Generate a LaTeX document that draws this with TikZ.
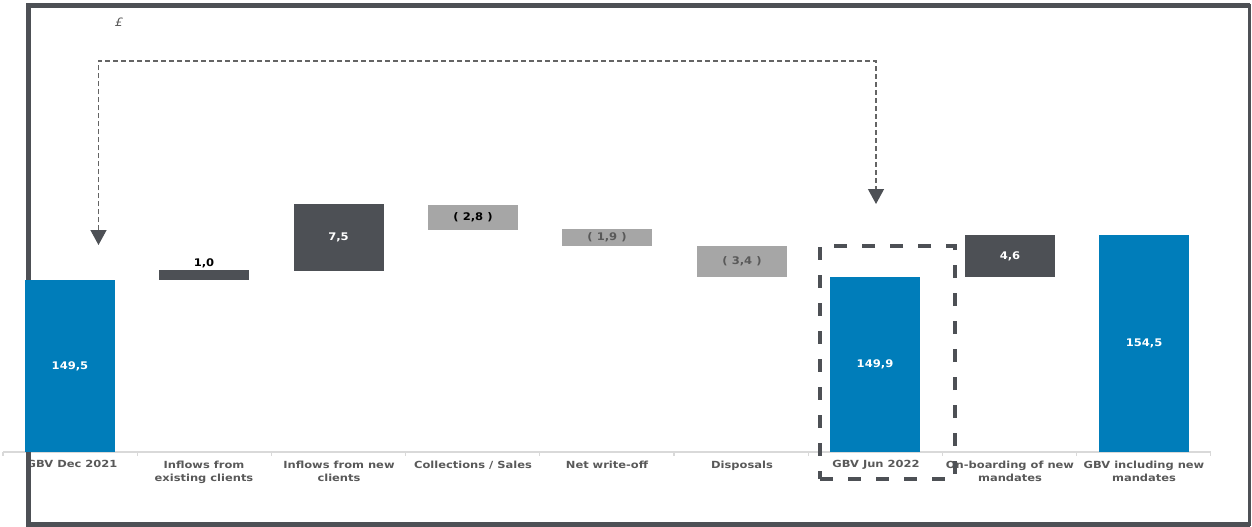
\documentclass[tikz,border=0pt]{standalone}
\usepackage{fontspec}
\setmainfont{DejaVu Sans}
\newfontfamily\catfont{DejaVu Sans}[FakeStretch=1.17]
\newfontfamily\valfont{DejaVu Sans}[FakeStretch=1.1]
\usepackage{tikz}
\usetikzlibrary{positioning, arrows.meta}
\definecolor{gbvblue}{RGB}{0,125,186}
\definecolor{bardark}{RGB}{77,80,85}
\definecolor{barlight}{RGB}{166,166,166}
\definecolor{labgray}{RGB}{89,89,89}
\definecolor{axisgray}{RGB}{217,217,217}
\definecolor{linkgray}{RGB}{100,100,100}

\begin{document}
\begin{tikzpicture}[x=1pt, y=-1pt,
    bar/.style={minimum width=90pt, inner sep=0pt, text=white, font=\valfont\bfseries\fontsize{10.5}{12}\selectfont},
    cat/.style={anchor=north, inner sep=0pt, align=center, text=labgray, font=\catfont\bfseries\fontsize{9.8}{13}\selectfont},
    link/.style={draw=linkgray, line width=1.3pt, dash pattern=on 5pt off 3pt, {Triangle[width=16pt, length=15pt, color=bardark]}-{Triangle[width=16pt, length=15pt, color=bardark]}},
    frame/.style={draw=bardark, line width=4.5pt}]
    \useasboundingbox (0,0) rectangle (1252,527);

    \draw[axisgray, line width=1.2pt] (3,452) -- (1211,452);
    \foreach \i in {0,...,9}
        \draw[axisgray, line width=1.2pt] ({3+134.2*\i},452) -- ++(0,4);

    \node[cat] (ldec) at (72,460.5) {GBV Dec 2021};
    \node[cat] (lexist) at (204,460.5) {Inflows from\\existing clients};
    \node[cat] (lnew) at (339,460.5) {Inflows from new\\clients};
    \node[cat] (lcoll) at (473,460.5) {Collections / Sales};
    \node[cat] (lwo) at (607,460.5) {Net write-off};
    \node[cat] (ldisp) at (742,460.5) {Disposals};
    \node[cat] (ljun) at (876,460.5) {GBV Jun 2022};
    \node[cat] (lonb) at (1010,460.5) {On-boarding of new\\mandates};
    \node[cat] (lincl) at (1144,460.5) {GBV including new\\mandates};

    \draw[frame] (1249.5,524.5) -- (28.5,524.5) -- (28.5,5.5) -- (1249.5,5.5);
    \draw[draw=bardark, line width=3pt] (1249.5,4) -- (1249.5,526);

    \node[text=labgray, font=\valfont\itshape\fontsize{11.5}{12}\selectfont] (unit) at (119,22) {£};

    \node[bar, fill=gbvblue, minimum height=172pt] (dec) at (70,366) {149,5};
    \node[bar, fill=bardark, minimum height=10pt] (exist) at (204,275) {};
    \node[bar, fill=bardark, minimum height=67pt] (new) at (338.5,237.5) {7,5};
    \node[bar, fill=barlight, text=black, minimum height=25pt] (coll) at (473,217.5) {( 2,8 )};
    \node[bar, fill=barlight, text=labgray, minimum height=17pt] (wo) at (607,237.5) {( 1,9 )};
    \node[bar, fill=barlight, text=labgray, minimum height=31pt] (disp) at (742,261.5) {( 3,4 )};
    \node[bar, fill=gbvblue, minimum height=175pt] (jun) at (875,364.5) {149,9};
    \node[bar, fill=bardark, minimum height=42pt] (onb) at (1010,256) {4,6};
    \node[bar, fill=gbvblue, minimum height=217pt] (incl) at (1144,343.5) {154,5};
    \node[bar, text=black, minimum width=0pt, above=2pt of exist] (vexist) {1,0};

    \coordinate (adec) at (98.5,245);
    \coordinate (ltop) at (98.5,61);
    \coordinate (rtop) at (876,61);
    \coordinate (ajun) at (876,204);
    \draw[link] (adec) -- (ltop) -- (rtop) -- (ajun);

    \node[draw=bardark, line width=4pt, dash pattern=on 13pt off 15pt, minimum width=135pt, minimum height=233pt] (junbox) at (887.5,362.5) {};
\end{tikzpicture}
\end{document}
